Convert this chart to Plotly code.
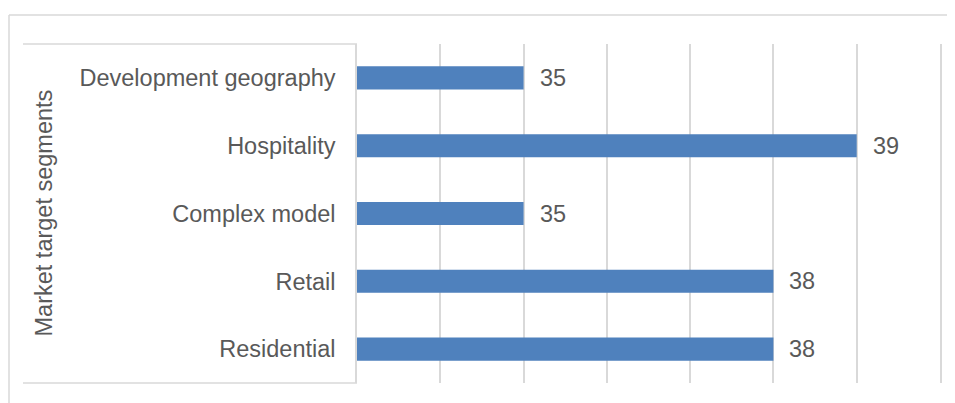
import plotly.graph_objects as go

categories = ["Development geography", "Hospitality", "Complex model", "Retail", "Residential"]
values = [35, 39, 35, 38, 38]
axis_title = "Market target segments"
x_min, x_max = 33, 40

# page has an 8px body margin; figure is placed at (8, 8)
OFF = 8
W, H = 955 - OFF, 403 - OFF
PL, PR, PT, PB = 357, 940, 44, 383          # plot area in page pixels
L, T = PL - OFF, PT - OFF
R, B = W - (PR - OFF), H - (PB - OFF)
pw, ph = PR - PL, PB - PT

def px_x(p):
    return (p - PL) / pw

def px_y(p):
    return (PB - p) / ph

FONT = "Liberation Sans, Arial, sans-serif"
TXT = "#595959"
GRID = "#D9D9D9"
FS = 23.5

fig = go.Figure(go.Bar(
    y=categories, x=values, orientation="h",
    marker=dict(color="#4F81BD", line=dict(width=0)),
    width=0.34,
))

annotations = []
for c, v in zip(categories, values):
    annotations.append(dict(x=v, y=c, xref="x", yref="y", text=str(v),
                            showarrow=False, xanchor="left", yanchor="middle",
                            xshift=14, font=dict(family=FONT, size=FS, color=TXT)))
annotations.append(dict(x=px_x(43), y=0.5, xref="paper", yref="paper",
                        text=axis_title, textangle=-90, showarrow=False,
                        xanchor="center", yanchor="middle",
                        font=dict(family=FONT, size=FS, color=TXT)))

shapes = [
    # outer frame (top and left)
    dict(type="line", xref="paper", yref="paper", x0=px_x(9), x1=px_x(970),
         y0=px_y(15), y1=px_y(15), line=dict(color=GRID, width=1.5)),
    dict(type="line", xref="paper", yref="paper", x0=px_x(9), x1=px_x(9),
         y0=px_y(15), y1=px_y(420), line=dict(color=GRID, width=1.5)),
    # label box top and bottom
    dict(type="line", xref="paper", yref="paper", x0=px_x(23), x1=px_x(357),
         y0=1, y1=1, line=dict(color=GRID, width=1.5)),
    dict(type="line", xref="paper", yref="paper", x0=px_x(23), x1=px_x(357),
         y0=0, y1=0, line=dict(color=GRID, width=1.5)),
]

fig.update_layout(
    width=W, height=H,
    margin=dict(l=L, r=R, t=T, b=B, pad=0),
    paper_bgcolor="white", plot_bgcolor="white",
    showlegend=False,
    xaxis=dict(range=[x_min, x_max], dtick=1, tick0=x_min, showgrid=True,
               gridcolor=GRID, gridwidth=1.5, showticklabels=False, zeroline=False,
               showline=False, ticks=""),
    yaxis=dict(categoryorder="array", categoryarray=categories, autorange="reversed",
               showgrid=False, zeroline=False, showline=True, mirror=True,
               linecolor=GRID, linewidth=1.5, ticks="", ticklabelstandoff=15,
               tickfont=dict(family=FONT, size=FS, color=TXT)),
    annotations=annotations,
    shapes=shapes,
)

fig.write_html("out.html")
